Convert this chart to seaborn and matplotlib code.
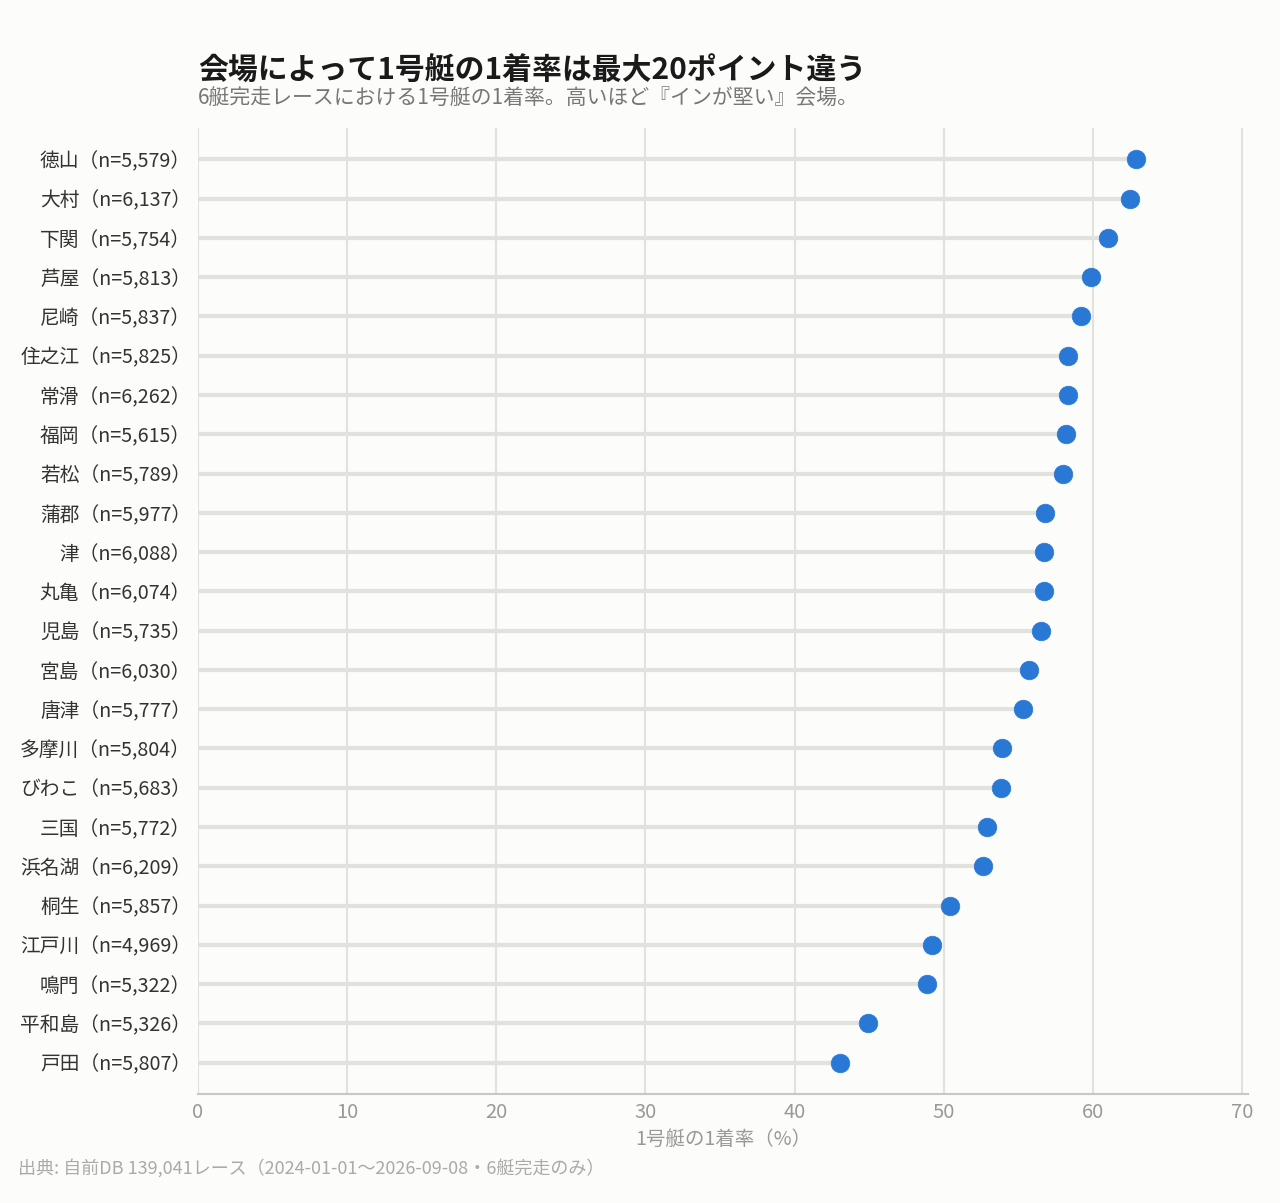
import matplotlib
matplotlib.use("Agg")
import matplotlib.pyplot as plt
import seaborn as sns
import numpy as np
import pandas as pd

venues = ["徳山", "大村", "下関", "芦屋", "尼崎", "住之江", "常滑", "福岡", "若松", "蒲郡",
          "津", "丸亀", "児島", "宮島", "唐津", "多摩川", "びわこ", "三国", "浜名湖", "桐生",
          "江戸川", "鳴門", "平和島", "戸田"]
counts = ["5,579", "6,137", "5,754", "5,813", "5,837", "5,825", "6,262", "5,615", "5,789", "5,977",
          "6,088", "6,074", "5,735", "6,030", "5,777", "5,804", "5,683", "5,772", "6,209", "5,857",
          "4,969", "5,322", "5,326", "5,807"]
win_rate = [62.9, 62.5, 61.0, 59.9, 59.2, 58.3, 58.3, 58.2, 58.0, 56.8,
            56.7, 56.7, 56.55, 55.7, 55.3, 53.9, 53.85, 52.9, 52.65, 50.45,
            49.2, 48.9, 44.95, 43.05]
x_ticks = [0, 10, 20, 30, 40, 50, 60, 70]

labels = [f"{v}（n={c}）" for v, c in zip(venues, counts)]
df = pd.DataFrame({"label": labels, "rate": win_rate, "pos": np.arange(len(labels))})

BG = "#FCFCFA"
GRID = "#E2E2DC"
DOT = "#2A78D6"

sns.set_theme(style="white")
plt.rcParams['font.family'] = ['Noto Sans CJK JP', 'DejaVu Sans']

fig = plt.figure(figsize=(12.8, 12.03), dpi=100, facecolor=BG)
ax = fig.add_axes([198/1280, 1 - 1094/1203, (1248-198)/1280, (1094-128)/1203])
ax.set_facecolor(BG)

ax.hlines(y=df["pos"], xmin=0, xmax=df["rate"], color=GRID, linewidth=3, zorder=2)
sns.scatterplot(data=df, x="rate", y="pos", ax=ax, color=DOT, s=180,
                edgecolor=DOT, linewidth=0.5, zorder=3, legend=False)

ax.set_xlim(0, 70.4)
ax.set_ylim(len(labels) - 1 + 0.8, -0.8)
ax.set_xticks(x_ticks)
ax.set_xticklabels([str(t) for t in x_ticks], fontsize=14.5, color="#999999")
ax.set_yticks(df["pos"])
ax.set_yticklabels(df["label"], fontsize=14.2, color="#333333")
ax.tick_params(axis="both", length=0)
ax.tick_params(axis="y", pad=5)
ax.tick_params(axis="x", pad=6)
ax.xaxis.grid(True, color=GRID, linewidth=1.5, zorder=0)
ax.yaxis.grid(False)
ax.set_axisbelow(True)
for s in ["top", "right", "left"]:
    ax.spines[s].set_visible(False)
ax.spines["bottom"].set_color("#C8C8C0")
ax.spines["bottom"].set_linewidth(1.5)
ax.set_ylabel("")
ax.set_xlabel("1号艇の1着率（%）", fontsize=14, color="#999999", labelpad=4)

fig.text(198/1280, 1 - 71/1203, "会場によって1号艇の1着率は最大20ポイント違う",
         fontsize=21.5, fontweight="bold", color="#1a1a1a", va="center", ha="left")
fig.text(198/1280, 1 - 99/1203, "6艇完走レースにおける1号艇の1着率。高いほど『インが堅い』会場。",
         fontsize=15, color="#777777", va="center", ha="left")
fig.text(18/1280, 1 - 1168/1203, "出典: 自前DB 139,041レース（2024-01-01〜2026-09-08・6艇完走のみ）",
         fontsize=13, color="#aaaaaa", va="center", ha="left")

fig.savefig("out.png", dpi=100, facecolor=BG)
